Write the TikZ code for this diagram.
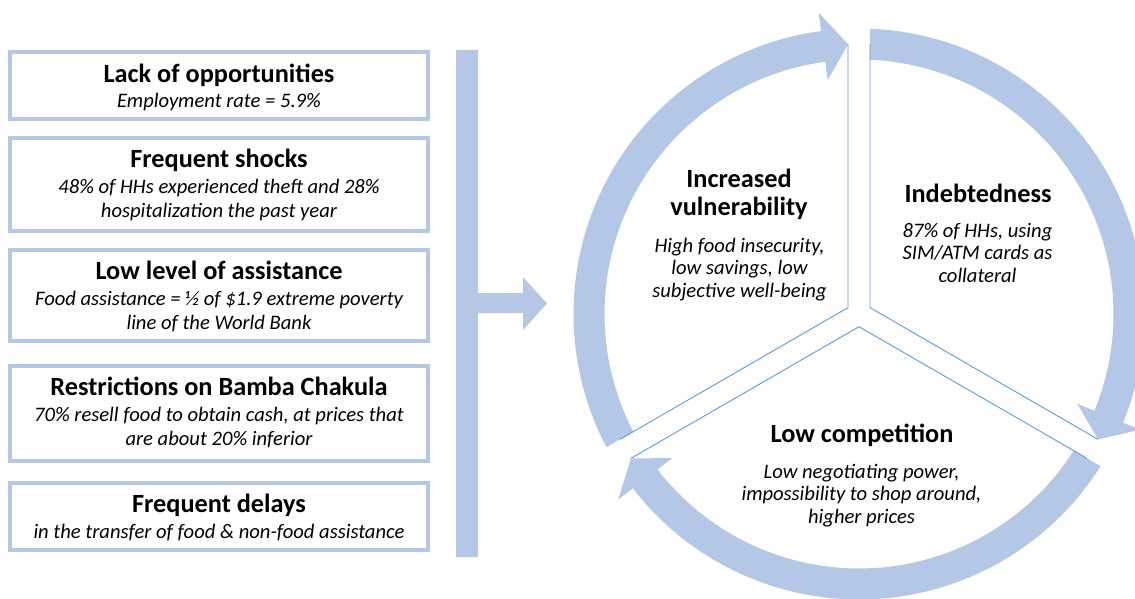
\documentclass[tikz,border=0pt]{standalone}
\usepackage{fontspec}
\setmainfont{Carlito}
\definecolor{ringblue}{RGB}{180,199,231}
\definecolor{lineblue}{RGB}{91,155,213}
\tikzset{
  boxframe/.style={draw=ringblue, line width=4pt, fill=white, inner sep=0pt},
  ttl/.style={anchor=base, inner sep=0pt, font=\fontsize{26.3}{30}\selectfont\bfseries},
  sub/.style={anchor=base, inner sep=0pt, align=center, font=\fontsize{20.6}{23.5}\selectfont\itshape},
  csub/.style={anchor=base, inner sep=0pt, align=center, font=\fontsize{20.6}{22.5}\selectfont\itshape},
  ctl/.style={anchor=base, inner sep=0pt, align=center, font=\fontsize{26.3}{28}\selectfont\bfseries},
  gapline/.style={draw=lineblue, line width=0.9pt},
  ringshape/.style={fill=ringblue, draw=none}
}
\begin{document}
\begin{tikzpicture}[x=1pt,y=-1pt]
\useasboundingbox (0,0) rectangle (1135,598);
\clip (0,0) rectangle (1135,598);
% left boxes
\node[boxframe, minimum width=418pt, minimum height=67pt] (box1) at (219,85.5) {};
\node[boxframe, minimum width=418pt, minimum height=93pt] (box2) at (219,184.5) {};
\node[boxframe, minimum width=418pt, minimum height=91pt] (box3) at (219,295.5) {};
\node[boxframe, minimum width=418pt, minimum height=95pt] (box4) at (219,413.5) {};
\node[boxframe, minimum width=418pt, minimum height=67pt] (box5) at (219,516.5) {};
\node[ttl] (t1) at (219,82) {Lack of opportunities};
\node[sub] (s1) at (219,107) {Employment rate = 5.9\%};
\node[ttl] (t2) at (219,167) {Frequent shocks};
\node[sub] (s2) at (219,217) {48\% of HHs experienced theft and 28\%\\hospitalization the past year};
\node[ttl] (t3) at (219,279) {Low level of assistance};
\node[sub] (s3) at (219,329) {Food assistance = ½ of \$1.9 extreme poverty\\line of the World Bank};
\node[ttl] (t4) at (219,395) {Restrictions on Bamba Chakula};
\node[sub] (s4) at (219,445) {70\% resell food to obtain cash, at prices that\\are about 20\% inferior};
\node[ttl] (t5) at (219,512) {Frequent delays};
\node[sub] (s5) at (219,538) {in the transfer of food \& non-food assistance};
% bracket bar and arrow
\fill[ringblue] (456,50) -- (478,50) -- (478,293) -- (523,293) -- (523,277) -- (547,303.5)
  -- (523,330) -- (523,313) -- (478,313) -- (478,557) -- (456,557) -- cycle;
% cycle
\begin{scope}[shift={(859,314)}, y=1pt]
  \fill[ringshape] (207.79:285.5) arc[start angle=207.79, end angle=97.63, radius=285.5]
    -- (97.63:304) -- (92.33:270) -- (97.63:236) -- (97.63:254.5)
    arc[start angle=97.63, end angle=207.52, radius=254.5] -- cycle;
  \fill[ringshape] (87.79:285.5) arc[start angle=87.79, end angle=-22.37, radius=285.5]
    -- (-22.37:304) -- (-27.67:270) -- (-22.37:236) -- (-22.37:254.5)
    arc[start angle=-22.37, end angle=87.52, radius=254.5] -- cycle;
  \fill[ringshape] (327.79:285.5) arc[start angle=327.79, end angle=217.63, radius=285.5]
    -- (217.63:304) -- (212.33:270) -- (217.63:236) -- (217.63:254.5)
    arc[start angle=217.63, end angle=327.52, radius=254.5] -- cycle;
  \coordinate (cA) at (-11,6.35);
  \coordinate (cB) at (11,6.35);
  \coordinate (cC) at (0,-12.7);
  \coordinate (eA1) at (-11,269.8);
  \coordinate (eA2) at (207.67:270);
  \coordinate (eB1) at (11,269.8);
  \coordinate (eB2) at (-27.67:270);
  \coordinate (eC1) at (212.33:270);
  \coordinate (eC2) at (327.67:270);
  \draw[gapline] (eA1) -- (cA) -- (eA2);
  \draw[gapline] (eB1) -- (cB) -- (eB2);
  \draw[gapline] (eC1) -- (cC) -- (eC2);
\end{scope}
% cycle texts
\node[ctl] (vt) at (739,215) {Increased\\vulnerability};
\node[csub] (vs) at (739.5,297) {High food insecurity,\\low savings, low\\subjective well-being};
\node[ctl] (it) at (978,202) {Indebtedness};
\node[csub] (is) at (977.5,282) {87\% of HHs, using\\SIM/ATM cards as\\collateral};
\node[ctl] (lt) at (862,442) {Low competition};
\node[csub] (ls) at (861.5,523) {Low negotiating power,\\impossibility to shop around,\\higher prices};
\end{tikzpicture}
\end{document}
